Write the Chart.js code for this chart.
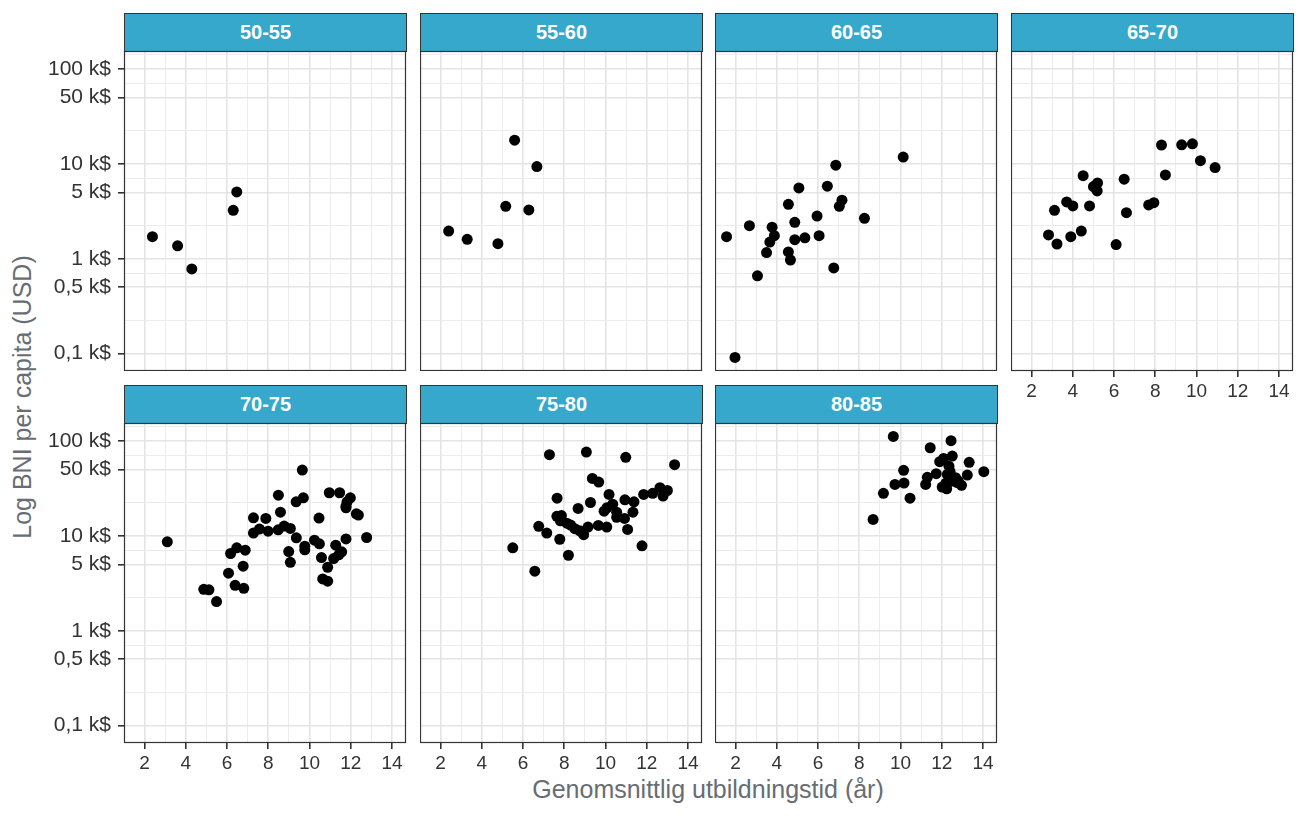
<!DOCTYPE html>
<html lang="sv">
<head>
<meta charset="utf-8">
<title>BNI per capita och utbildningstid</title>
<script src="https://cdn.jsdelivr.net/npm/chart.js@4/dist/chart.umd.min.js"></script>
<style>
  html, body { margin: 0; padding: 0; background: #fff; }
  #figure { position: relative; width: 1306px; height: 816px; overflow: hidden; font-family: "Liberation Sans", Arial, sans-serif; }
  .strip { position: absolute; box-sizing: border-box; background: #36a8cb; border: 1px solid #333; color: #fff; font-weight: bold; font-size: 20px; display: flex; align-items: center; justify-content: center; }
  canvas { position: absolute; }
  .axis-title { position: absolute; color: #676d72; font-size: 25px; white-space: nowrap; line-height: 1; }
  #xTitle { left: 708px; top: 789px; transform: translate(-50%, -50%); }
  #yTitle { left: 22px; top: 397px; transform: translate(-50%, -50%) rotate(-90deg); }
</style>
</head>
<body>
<div id="figure">
  <div class="axis-title" id="xTitle">Genomsnittlig utbildningstid (år)</div>
  <div class="axis-title" id="yTitle">Log BNI per capita (USD)</div>
</div>
<script>
// facets (age groups)
const facetNames = ['50-55', '55-60', '60-65', '65-70', '70-75', '75-80', '80-85'];

// x = mean years of schooling, y = GNI per capita in k$
const educ_50_55 = [2.38, 3.60, 4.29, 6.30, 6.47];
const gni_50_55 = [1.71, 1.37, 0.78, 3.24, 5.06];

const educ_55_60 = [5.59, 6.67, 5.16, 6.28, 2.39, 3.29, 4.78];
const gni_55_60 = [17.8, 9.37, 3.57, 3.27, 1.96, 1.60, 1.44];

const educ_60_65 = [10.13, 6.86, 5.07, 6.45, 4.56, 7.16, 7.03, 5.95, 8.25, 4.87, 2.67, 3.77, 1.56, 3.88, 3.66, 4.87, 5.36, 6.05, 3.50, 4.56, 4.66, 6.76, 3.06, 1.97];
const gni_60_65 = [11.8, 9.68, 5.58, 5.82, 3.75, 4.14, 3.57, 2.82, 2.67, 2.42, 2.23, 2.15, 1.71, 1.75, 1.50, 1.59, 1.66, 1.75, 1.16, 1.18, 0.97, 0.80, 0.66, 0.091];

const educ_65_70 = [8.30, 9.28, 9.80, 10.19, 10.90, 8.49, 4.50, 6.49, 5.20, 5.00, 5.18, 5.08, 3.70, 4.00, 4.81, 3.11, 6.60, 7.68, 7.93, 4.41, 2.82, 3.90, 3.23, 6.10];
const gni_65_70 = [15.8, 15.9, 16.3, 10.8, 9.14, 7.65, 7.52, 6.89, 6.30, 5.75, 5.19, 5.9, 3.97, 3.60, 3.60, 3.24, 3.06, 3.69, 3.90, 1.96, 1.78, 1.71, 1.43, 1.41];

const educ_70_75 = [3.10, 9.65, 8.49, 10.96, 11.46, 11.98, 11.82, 11.77, 11.77, 9.70, 9.35, 12.27, 12.37, 8.59, 7.28, 7.88, 10.46, 7.28, 7.57, 7.99, 8.48, 8.77, 9.07, 9.36, 10.24, 10.48, 9.77, 9.77, 8.99, 9.07, 11.77, 12.77, 11.27, 11.56, 11.42, 11.17, 10.58, 10.88, 10.64, 10.88, 6.17, 6.47, 6.88, 6.78, 6.07, 6.39, 6.81, 4.87, 5.12, 5.49];
const gni_70_75 = [8.66, 49.4, 26.9, 28.5, 28.5, 25.2, 22.9, 20.6, 19.8, 25.2, 22.9, 17.1, 16.6, 17.8, 15.5, 15.3, 15.4, 10.7, 11.8, 11.2, 11.6, 12.7, 12.0, 9.55, 9.0, 8.26, 7.78, 7.13, 6.84, 5.27, 9.30, 9.62, 7.98, 6.79, 6.31, 5.77, 5.91, 4.67, 3.52, 3.33, 6.52, 7.48, 7.07, 4.79, 4.04, 3.01, 2.80, 2.73, 2.70, 2.03];

const educ_75_80 = [7.28, 9.07, 10.98, 13.35, 9.36, 9.67, 12.64, 13.00, 12.79, 12.29, 11.85, 10.17, 7.65, 10.94, 11.38, 9.27, 10.35, 8.67, 10.07, 9.93, 10.54, 11.33, 10.54, 10.92, 7.64, 7.86, 7.81, 8.12, 8.31, 8.51, 8.75, 8.94, 9.15, 9.65, 10.06, 11.07, 6.76, 7.15, 7.78, 5.50, 11.77, 8.20, 6.57];
const gni_75_80 = [71.8, 76.6, 67.3, 56.3, 40.4, 36.9, 32.2, 30.1, 26.3, 28.1, 27.4, 27.4, 25.0, 24.0, 22.9, 22.5, 21.6, 19.5, 19.8, 18.2, 17.8, 17.8, 15.7, 15.3, 16.1, 16.4, 14.4, 13.6, 13.0, 11.9, 11.3, 10.3, 12.4, 12.9, 12.4, 11.7, 12.6, 10.7, 9.22, 7.48, 7.85, 6.25, 4.24];

const educ_80_85 = [9.65, 12.45, 11.44, 12.51, 12.09, 11.90, 13.33, 12.35, 10.15, 14.04, 11.73, 13.24, 11.30, 12.27, 12.67, 12.51, 11.22, 10.17, 9.73, 12.96, 12.02, 12.24, 12.75, 9.17, 10.46, 8.67, 12.40, 12.60, 12.80, 12.20];
const gni_80_85 = [112, 101, 85, 69.5, 65.6, 60.6, 59.6, 54.4, 49.1, 47.5, 45.3, 43.8, 41.4, 44.5, 41.1, 37.8, 34.9, 36.1, 34.9, 34.1, 32.7, 31.4, 36.4, 28.1, 25.0, 14.9, 48.0, 40.0, 38.0, 36.0];

// axes
const xTickValues = [2, 4, 6, 8, 10, 12, 14];
const xMinorValues = [3, 5, 7, 9, 11, 13];
const yTickValues = [0.1, 0.5, 1, 5, 10, 50, 100];
const yTickLabels = ['0,1 k$', '0,5 k$', '1 k$', '5 k$', '10 k$', '50 k$', '100 k$'];
const yMinorValues = [0.2236, 0.7071, 2.236, 7.071, 22.36, 70.71, 141.4];

const facetData = [
    [educ_50_55, gni_50_55], [educ_55_60, gni_55_60], [educ_60_65, gni_60_65], [educ_65_70, gni_65_70],
    [educ_70_75, gni_70_75], [educ_75_80, gni_75_80], [educ_80_85, gni_80_85]
];

const colLefts = [124, 420, 715, 1011];
const rowTops = [51, 423];
const panelW = 282, panelH = 320, stripH = 38;
const fontFamily = '"Liberation Sans", Arial, sans-serif';

const panelBorder = {
    id: 'panelBorder',
    afterDraw(chart) {
        const { ctx, chartArea: a } = chart;
        ctx.save();
        ctx.strokeStyle = '#333';
        ctx.lineWidth = 1.2;
        ctx.strokeRect(a.left + 0.5, a.top + 0.5, a.right - a.left - 1, a.bottom - a.top - 1);
        ctx.restore();
    }
};

const gridColor = ctx => ctx.tick && ctx.tick.minor ? '#ececec' : '#e4e4e4';
const gridWidth = ctx => ctx.tick && ctx.tick.minor ? 1 : 1.6;
const tickColor = ctx => ctx.tick && ctx.tick.minor ? 'rgba(0,0,0,0)' : '#333';

// keep the plot area exactly where the facet grid puts it
function fixSize(s, prop, size) {
    s[prop] = size;
    s.paddingTop = s.paddingBottom = s.paddingLeft = s.paddingRight = 0;
}

function makePanel(i) {
    const col = i % 4, row = Math.floor(i / 4);
    const showY = col === 0;
    const showX = row === 1 || col === 3;
    const left = colLefts[col], top = rowTops[row];
    const yW = showY ? 94 : 0, xH = showX ? 34 : 0;
    const fig = document.getElementById('figure');

    const strip = document.createElement('div');
    strip.className = 'strip';
    strip.textContent = facetNames[i];
    Object.assign(strip.style, { left: left + 'px', top: (top - stripH) + 'px', width: (panelW + 1) + 'px', height: (stripH + 1) + 'px' });
    fig.appendChild(strip);

    const canvas = document.createElement('canvas');
    canvas.width = yW + panelW + 1;
    canvas.height = panelH + xH + 1;
    Object.assign(canvas.style, { left: (left - yW) + 'px', top: (top - 1) + 'px', width: canvas.width + 'px', height: canvas.height + 'px' });
    fig.appendChild(canvas);

    const [xs, ys] = facetData[i];
    new Chart(canvas, {
        type: 'scatter',
        data: {
            datasets: [{
                data: xs.map((x, k) => ({ x, y: ys[k] })),
                backgroundColor: '#000',
                borderColor: '#000',
                pointRadius: 5.5,
                borderWidth: 0
            }]
        },
        options: {
            responsive: false,
            animation: false,
            events: [],
            layout: { padding: { top: 1, right: 1, left: 0, bottom: 0 }, autoPadding: false },
            plugins: { legend: { display: false }, tooltip: { enabled: false } },
            scales: {
                x: {
                    type: 'linear', min: 1.0, max: 14.68, bounds: 'data',
                    afterBuildTicks: s => { s.ticks = xTickValues.map(v => ({ value: v })).concat(xMinorValues.map(v => ({ value: v, minor: true }))); },
                    afterFit: s => fixSize(s, 'height', xH),
                    border: { display: false },
                    grid: { color: gridColor, lineWidth: gridWidth, drawTicks: showX, tickLength: 6, tickColor, tickWidth: 1.6 },
                    ticks: {
                        display: showX, autoSkip: false, maxRotation: 0, padding: 3, color: '#333', font: { family: fontFamily, size: 19 },
                        callback: v => xTickValues.includes(v) ? String(v) : ''
                    }
                },
                y: {
                    type: 'logarithmic', min: 0.0655, max: 155, bounds: 'data',
                    afterBuildTicks: s => { s.ticks = yTickValues.map(v => ({ value: v })).concat(yMinorValues.map(v => ({ value: v, minor: true }))); },
                    afterFit: s => fixSize(s, 'width', yW),
                    border: { display: false },
                    grid: { color: gridColor, lineWidth: gridWidth, drawTicks: showY, tickLength: 6, tickColor, tickWidth: 1.6 },
                    ticks: {
                        display: showY, autoSkip: false, padding: 7, color: '#333', font: { family: fontFamily, size: 21 },
                        callback: v => { const k = yTickValues.indexOf(v); return k >= 0 ? yTickLabels[k] : ''; }
                    }
                }
            }
        },
        plugins: [panelBorder]
    });
}

facetNames.forEach((_, i) => makePanel(i));
</script>
</body>
</html>
